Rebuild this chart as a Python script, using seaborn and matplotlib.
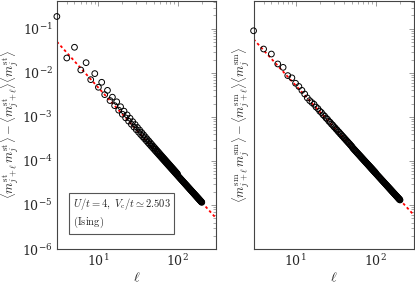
import matplotlib
matplotlib.use("Agg")
import matplotlib.pyplot as plt
import seaborn as sns
from matplotlib.ticker import LogLocator, NullFormatter

# distances l (every integer up to 100, then every second one)
ell = list(range(3, 101)) + list(range(102, 201, 2))

# staggered correlator (left panel)
corr_st = [
    # l = 3..50
    0.19, 0.0217, 0.038, 0.0116, 0.017, 0.0070, 0.0096, 0.0047, 0.0061, 0.0032,
    0.0040, 0.00235, 0.0028, 0.0018, 0.0022, 0.00142, 0.0017, 0.00115, 0.00135, 0.00095,
    0.00111, 0.00080, 0.00093, 0.00068, 0.00078, 0.000587, 0.00067, 0.00051, 0.000575, 0.00045,
    0.000503, 0.000398, 0.000443, 0.000355, 0.000393, 0.000319, 0.000351, 0.000288, 3.15e-4, 2.608e-4,
    2.85e-4, 2.376e-4, 2.59e-4, 2.174e-4, 2.36e-4, 1.997e-4, 2.165e-4, 1.84e-4,
    # l = 51..100
    1.99e-4, 1.701e-4, 1.838e-4, 1.577e-4, 1.703e-4, 1.467e-4, 1.582e-4, 1.367e-4, 1.471e-4, 1.278e-4,
    1.372e-4, 1.197e-4, 1.284e-4, 1.123e-4, 1.204e-4, 1.056e-4, 1.132e-4, 9.95e-5, 1.065e-4, 9.39e-5,
    1.004e-4, 8.87e-5, 9.49e-5, 8.40e-5, 8.98e-5, 7.96e-5, 8.50e-5, 7.56e-5, 8.07e-5, 7.19e-5,
    7.66e-5, 6.84e-5, 7.29e-5, 6.52e-5, 6.94e-5, 6.22e-5, 6.61e-5, 5.94e-5, 6.31e-5, 5.68e-5,
    6.03e-5, 5.43e-5, 5.76e-5, 5.21e-5, 5.52e-5, 4.99e-5, 5.28e-5, 4.79e-5, 5.07e-5, 4.60e-5,
    # l = 102..200 (step 2)
    4.421e-5, 4.253e-5, 4.094e-5, 3.944e-5, 3.802e-5, 3.667e-5, 3.540e-5, 3.419e-5, 3.304e-5, 3.194e-5,
    3.091e-5, 2.992e-5, 2.897e-5, 2.808e-5, 2.722e-5, 2.640e-5, 2.562e-5, 2.487e-5, 2.415e-5, 2.347e-5,
    2.281e-5, 2.218e-5, 2.158e-5, 2.100e-5, 2.044e-5, 1.991e-5, 1.940e-5, 1.890e-5, 1.843e-5, 1.797e-5,
    1.753e-5, 1.710e-5, 1.669e-5, 1.630e-5, 1.592e-5, 1.555e-5, 1.519e-5, 1.485e-5, 1.452e-5, 1.420e-5,
    1.389e-5, 1.359e-5, 1.330e-5, 1.301e-5, 1.274e-5, 1.248e-5, 1.222e-5, 1.197e-5, 1.173e-5, 1.150e-5,
]

# sm correlator (right panel)
corr_sm = [
    # l = 3..50
    0.090, 0.0347, 0.0267, 0.0159, 0.0133, 0.00865, 0.0077, 0.0058, 0.0049, 0.0040,
    0.0033, 0.0027, 0.00234, 2.11e-3, 1.93e-3, 1.67e-3, 1.54e-3, 1.35e-3, 1.256e-3, 1.117e-3,
    1.042e-3, 9.39e-4, 8.82e-4, 7.96e-4, 7.52e-4, 6.86e-4, 6.52e-4, 5.98e-4, 5.68e-4, 5.26e-4,
    5.01e-4, 4.63e-4, 4.46e-4, 4.13e-4, 3.97e-4, 3.71e-4, 3.57e-4, 3.35e-4, 3.22e-4, 3.04e-4,
    2.92e-4, 2.77e-4, 2.67e-4, 2.53e-4, 2.45e-4, 2.32e-4, 2.24e-4, 2.14e-4,
    # l = 51..100
    2.04e-4, 1.923e-4, 1.89e-4, 1.783e-4, 1.753e-4, 1.658e-4, 1.632e-4, 1.546e-4, 1.524e-4, 1.444e-4,
    1.425e-4, 1.353e-4, 1.336e-4, 1.270e-4, 1.255e-4, 1.194e-4, 1.181e-4, 1.125e-4, 1.114e-4, 1.061e-4,
    1.052e-4, 1.003e-4, 9.96e-5, 9.50e-5, 9.43e-5, 9.00e-5, 8.95e-5, 8.55e-5, 8.50e-5, 8.125e-5,
    8.08e-5, 7.73e-5, 7.70e-5, 7.37e-5, 7.34e-5, 7.03e-5, 7.01e-5, 6.71e-5, 6.70e-5, 6.42e-5,
    6.41e-5, 6.14e-5, 6.13e-5, 5.89e-5, 5.88e-5, 5.64e-5, 5.64e-5, 5.41e-5, 5.41e-5, 5.20e-5,
    # l = 102..200 (step 2)
    5.00e-5, 4.808e-5, 4.628e-5, 4.458e-5, 4.298e-5, 4.145e-5, 4.002e-5, 3.865e-5, 3.735e-5, 3.611e-5,
    3.494e-5, 3.382e-5, 3.275e-5, 3.174e-5, 3.077e-5, 2.984e-5, 2.896e-5, 2.811e-5, 2.730e-5, 2.653e-5,
    2.579e-5, 2.507e-5, 2.439e-5, 2.374e-5, 2.311e-5, 2.251e-5, 2.193e-5, 2.137e-5, 2.083e-5, 2.031e-5,
    1.982e-5, 1.933e-5, 1.887e-5, 1.843e-5, 1.800e-5, 1.758e-5, 1.717e-5, 1.679e-5, 1.641e-5, 1.605e-5,
    1.570e-5, 1.536e-5, 1.503e-5, 1.471e-5, 1.440e-5, 1.411e-5, 1.381e-5, 1.353e-5, 1.326e-5, 1.300e-5,
]

# power-law fits (end points)
fit_x = [3, 300]
fit_st = [0.051, 5.1e-6]
fit_sm = [0.058, 5.8e-6]

ylabel_st = (r"$\langle m^{\mathrm{st}}_{j+\ell}\, m^{\mathrm{st}}_{j}\rangle"
             r" - \langle m^{\mathrm{st}}_{j+\ell}\rangle\langle m^{\mathrm{st}}_{j}\rangle$")
ylabel_sm = (r"$\langle m^{\mathrm{sm}}_{j+\ell}\, m^{\mathrm{sm}}_{j}\rangle"
             r" - \langle m^{\mathrm{sm}}_{j+\ell}\rangle\langle m^{\mathrm{sm}}_{j}\rangle$")
box_text = r"$U/t = 4,\ V_{\rm c}/t \simeq 2.503$" + "\n" + r"$\mathrm{(Ising)}$"

sns.set_style("white")
plt.rcParams["mathtext.fontset"] = "cm"
plt.rcParams["font.family"] = ["DejaVu Serif"]

fig = plt.figure(figsize=(4.15, 2.84), dpi=100)
ax1 = fig.add_axes([0.137, 0.123, 0.383, 0.874])
ax2 = fig.add_axes([0.611, 0.123, 0.387, 0.874])


def panel(ax, y, fit_y, ylabel, labels=True):
    sns.lineplot(x=fit_x, y=fit_y, ax=ax, color="red", linewidth=1.3,
                 linestyle=(0, (1.5, 1.5)), zorder=2)
    sns.scatterplot(x=ell, y=y, ax=ax, marker="o", s=17, facecolor="none",
                    edgecolor="black", linewidth=0.7, clip_on=False, zorder=3)
    ax.set_xscale("log")
    ax.set_yscale("log")
    ax.set_xlim(3, 300)
    ax.set_ylim(1e-6, 0.43)
    ax.yaxis.set_major_locator(LogLocator(base=10, numticks=10))
    ax.yaxis.set_minor_locator(LogLocator(base=10, subs=range(2, 10), numticks=10))
    ax.xaxis.set_minor_locator(LogLocator(base=10, subs=range(2, 10), numticks=10))
    ax.xaxis.set_minor_formatter(NullFormatter())
    ax.tick_params(which="both", direction="in", top=True, right=True,
                   color="#888888", labelsize=9, pad=3)
    ax.tick_params(which="major", length=3.5, width=0.6)
    ax.tick_params(which="minor", length=2, width=0.5)
    if not labels:
        ax.tick_params(axis="y", which="both", labelleft=False)
    for s in ax.spines.values():
        s.set_color("#444444")
        s.set_linewidth(0.8)
    ax.set_xlabel(r"$\ell$", fontsize=10, labelpad=1)
    ax.set_ylabel(ylabel, fontsize=9, labelpad=1)


panel(ax1, corr_st, fit_st, ylabel_st)
panel(ax2, corr_sm, fit_sm, ylabel_sm, labels=False)

ax1.text(0.1, 0.075, box_text, transform=ax1.transAxes, fontsize=7.6,
         va="bottom", ha="left", linespacing=1.3,
         bbox=dict(boxstyle="square,pad=0.35", fc="white", ec="#555555", lw=0.8))

fig.savefig("out.png", dpi=100)
